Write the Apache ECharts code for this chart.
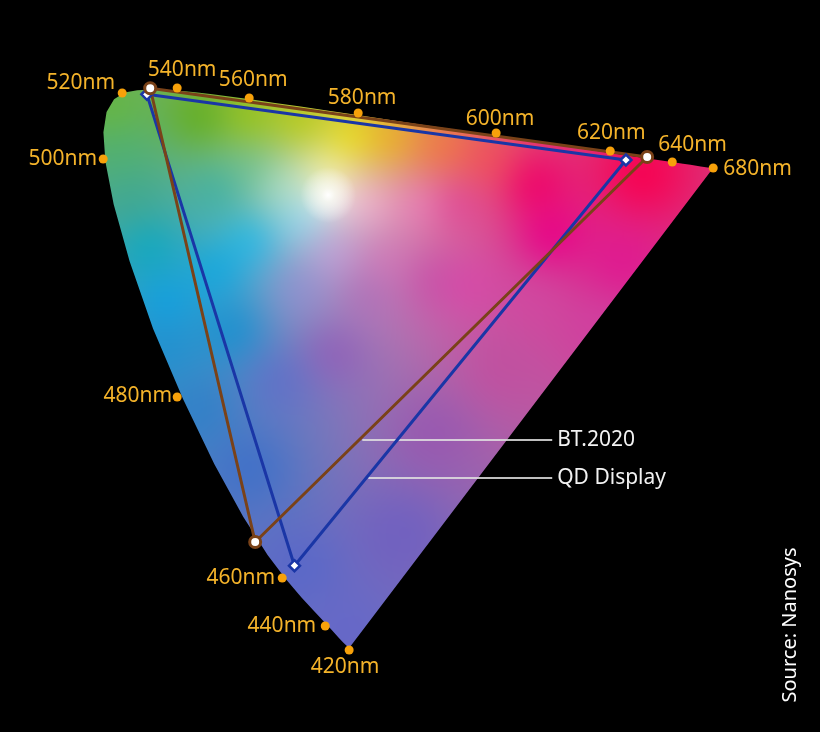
<!DOCTYPE html>
<html>
<head>
<meta charset="utf-8">
<script src="https://cdn.jsdelivr.net/npm/echarts@6/dist/echarts.min.js"></script>
<style>
html,body{margin:0;padding:0;background:#000;}
#chart{width:820px;height:732px;}
</style>
</head>
<body>
<div id="chart"></div>
<script>
// ---- DATA ----
// CIE 1931 spectral locus (wavelength, x, y)
const LOCUS_WL = [420,425,430,435,440,445,450,455,460,465,470,475,480,485,490,495,500,505,510,515,520,525,530,535,540,545,550,555,560,565,570,575,580,585,590,595,600,605,610,615,620,625,630,635,640,645,650,660,670,680];
const LOCUS_X = [0.1714,0.1703,0.1689,0.1669,0.1644,0.1611,0.1566,0.1510,0.1440,0.1355,0.1241,0.1096,0.0913,0.0687,0.0454,0.0235,0.0082,0.0039,0.0139,0.0389,0.0743,0.1142,0.1547,0.1929,0.2296,0.2658,0.3016,0.3373,0.3731,0.4087,0.4441,0.4788,0.5125,0.5448,0.5752,0.6029,0.6270,0.6482,0.6658,0.6801,0.6915,0.7006,0.7079,0.7140,0.7190,0.7230,0.7260,0.7300,0.7320,0.7347];
const LOCUS_Y = [0.0051,0.0058,0.0069,0.0086,0.0109,0.0138,0.0177,0.0227,0.0297,0.0399,0.0578,0.0868,0.1327,0.2007,0.2950,0.4127,0.5384,0.6548,0.7502,0.8120,0.8338,0.8262,0.8059,0.7816,0.7543,0.7243,0.6923,0.6589,0.6245,0.5896,0.5547,0.5202,0.4866,0.4544,0.4242,0.3965,0.3725,0.3514,0.3340,0.3197,0.3083,0.2993,0.2920,0.2859,0.2809,0.2770,0.2740,0.2700,0.2680,0.2653];

// Wavelength markers (u', v')
const MARK_WL = [420,440,460,480,500,520,540,560,580,600,620,640,680];
const MARK_U  = [0.2522,0.2278,0.1839,0.0767,0.0012,0.0206,0.0767,0.1502,0.2614,0.4022,0.5186,0.5819,0.6237];
const MARK_V  = [0.0149,0.0394,0.0884,0.2731,0.5159,0.5833,0.5884,0.5782,0.5629,0.5424,0.5241,0.5129,0.5067];

// Gamut triangles (G, R, B) in u', v'
const BT2020_U = [0.0492,0.5563,0.1563];
const BT2020_V = [0.5881,0.5180,0.1251];
const QD_U = [0.0458,0.5346,0.1964];
const QD_V = [0.5819,0.5149,0.1009];

// Annotations
const ANNOT_TEXT = ['BT.2020','QD Display'];
const ANNOT_U0 = [0.2656,0.2717];
const ANNOT_U1 = [0.4594,0.4594];
const ANNOT_V  = [0.2292,0.1904];

// ---- STYLE ----
const LABEL_PLACE = {
  420:[-4,17,'center'], 440:[-9,0,'right'], 460:[-7,0,'right'], 480:[-5,-1,'right'],
  500:[-6,0,'right'], 520:[-7,-10,'right'], 540:[5,-18,'center'], 560:[4,-18,'center'],
  580:[4,-15,'center'], 600:[4,-14,'center'], 620:[1,-18,'center'], 640:[-14,-17,'left'],
  680:[10,1,'left']
};
function px2uv(x,y){ return [(x-101.8)/980, (664.6-y)/980]; }
const WHITE_SPOT_PX = [328,195];
const COLOR_ANCHORS_PX = [
  [112,110,'#66b640'],[200,118,'#62ae1c'],[250,118,'#98c414'],[300,122,'#b8cc10'],
  [350,138,'#ece010'],[390,140,'#ecb020'],[440,148,'#f07840'],[485,160,'#f05058'],
  [533,185,'#f00068'],[640,175,'#f80050'],[550,235,'#e80088'],[620,262,'#e01890'],
  [467,285,'#d848a8'],[457,203,'#e04898'],[417,203,'#e880b8'],[367,203,'#f0b0d0'],
  [327,170,'#f4f0a0'],[328,195,'#ffffff'],[283,187,'#b0e0c8'],[250,170,'#70c090'],
  [217,190,'#40b0a0'],[300,220,'#90d8f0'],[250,240,'#20b8e8'],[217,270,'#10a8e0'],
  [150,247,'#10a8c0'],[133,197,'#40a890'],[120,150,'#50b070'],[333,253,'#c0a0d8'],
  [383,260,'#d078b8'],[300,287,'#9090d0'],[367,293,'#b070b8'],[433,280,'#c850a8'],
  [333,352,'#9060b8'],[167,300,'#10a0e0'],[233,330,'#1890d0'],[167,347,'#2090d0'],
  [200,410,'#3080c8'],[250,467,'#4070c8'],[280,380,'#6070c8'],[433,433,'#9858b0'],
  [533,300,'#d048a0'],[300,567,'#5a68c8'],[347,633,'#6668c8'],[400,533,'#7060c0'],
  [500,367,'#c050a0'],[600,330,'#d040a0']
];
const COLOR_ANCHORS = COLOR_ANCHORS_PX.map(a => {
  const uv = px2uv(a[0],a[1]);
  return [uv[0], uv[1], parseInt(a[2].slice(1,3),16), parseInt(a[2].slice(3,5),16), parseInt(a[2].slice(5,7),16)];
});
const BROWN = '#7a4218', BLUE = '#1a36a6';
const FONT = '"Noto Sans", "Open Sans", sans-serif';

// convert xy -> u'v'
const LOCUS_U = LOCUS_X.map((x,i)=> 4*x/(-2*x+12*LOCUS_Y[i]+3));
const LOCUS_V = LOCUS_X.map((x,i)=> 9*LOCUS_Y[i]/(-2*x+12*LOCUS_Y[i]+3));

let fillCache = null;
function renderFill(params, api){
  if (params.dataIndex !== 0) return null;
  const W = api.getWidth(), H = api.getHeight();
  if (!fillCache || fillCache.W !== W || fillCache.H !== H) {
    const p0 = api.coord([0,0]), p1 = api.coord([1,1]);
    const sx = p1[0]-p0[0], sy = p1[1]-p0[1];
    const pts = LOCUS_U.map((u,i)=>api.coord([u, LOCUS_V[i]]));
    let minX=1e9,minY=1e9,maxX=-1e9,maxY=-1e9;
    pts.forEach(p=>{minX=Math.min(minX,p[0]);minY=Math.min(minY,p[1]);maxX=Math.max(maxX,p[0]);maxY=Math.max(maxY,p[1]);});
    const M = 50;
    const bx=Math.max(0,Math.floor(minX)-M), by=Math.max(0,Math.floor(minY)-M);
    const bw=Math.min(W,Math.ceil(maxX)+M)-bx, bh=Math.min(H,Math.ceil(maxY)+M)-by;
    const A = document.createElement('canvas'); A.width=W; A.height=H;
    const actx = A.getContext('2d');
    const img = actx.createImageData(bw,bh);
    const d = img.data;
    const n = COLOR_ANCHORS.length;
    for (let j=0;j<bh;j++){
      const v = (by+j+0.5-p0[1])/sy;
      for (let i=0;i<bw;i++){
        const u = (bx+i+0.5-p0[0])/sx;
        let ws=0,r=0,g=0,b=0;
        for (let k=0;k<n;k++){
          const a = COLOR_ANCHORS[k];
          const du=u-a[0], dv=v-a[1];
          const d2 = du*du+dv*dv + 1e-7;
          const w = 1/(d2*Math.sqrt(Math.sqrt(d2)));
          ws+=w; r+=w*a[2]; g+=w*a[3]; b+=w*a[4];
        }
        const o=(j*bw+i)*4;
        d[o]=r/ws; d[o+1]=g/ws; d[o+2]=b/ws; d[o+3]=255;
      }
    }
    actx.putImageData(img,bx,by);
    const C = document.createElement('canvas'); C.width=W; C.height=H;
    const cctx = C.getContext('2d');
    cctx.filter = 'blur(15px)';
    cctx.drawImage(A,0,0);
    cctx.filter = 'none';
    // white glow around the white point
    const wuv = px2uv(WHITE_SPOT_PX[0], WHITE_SPOT_PX[1]);
    const wp = api.coord(wuv);
    const grd = cctx.createRadialGradient(wp[0],wp[1],0,wp[0],wp[1],28);
    grd.addColorStop(0,'rgba(255,255,255,1)');
    grd.addColorStop(0.25,'rgba(255,255,250,0.65)');
    grd.addColorStop(1,'rgba(255,255,255,0)');
    cctx.fillStyle = grd;
    cctx.fillRect(wp[0]-30,wp[1]-30,60,60);
    const B = document.createElement('canvas'); B.width=W; B.height=H;
    const bctx = B.getContext('2d');
    bctx.beginPath();
    pts.forEach((p,i)=>{ if(i===0) bctx.moveTo(p[0],p[1]); else bctx.lineTo(p[0],p[1]); });
    bctx.closePath();
    bctx.fillStyle='#fff'; bctx.fill();
    bctx.globalCompositeOperation='source-in';
    bctx.drawImage(C,0,0);
    fillCache = {W,H,canvas:B};
  }
  return {type:'image', silent:true, style:{image:fillCache.canvas, x:0, y:0, width:W, height:H}};
}

function renderMarker(params, api){
  const i = params.dataIndex;
  const c = api.coord([MARK_U[i], MARK_V[i]]);
  const pl = LABEL_PLACE[MARK_WL[i]];
  return {type:'group', children:[
    {type:'circle', shape:{cx:c[0], cy:c[1], r:4.5}, style:{fill:'#f7a10a'}},
    {type:'text', x:c[0]+pl[0], y:c[1]+pl[1], style:{text: MARK_WL[i]+'nm', fill:'#f4b32a', font:'21px '+FONT, align:pl[2], verticalAlign:'middle'}}
  ]};
}

function renderAnnot(params, api){
  const i = params.dataIndex;
  const a = api.coord([ANNOT_U0[i], ANNOT_V[i]]);
  const b = api.coord([ANNOT_U1[i], ANNOT_V[i]]);
  return {type:'group', children:[
    {type:'line', shape:{x1:a[0], y1:a[1], x2:b[0], y2:b[1]}, style:{stroke:'rgba(225,225,225,0.85)', lineWidth:2}},
    {type:'text', x:b[0]+5, y:b[1], style:{text:ANNOT_TEXT[i], fill:'#f2f2f2', font:'21px '+FONT, align:'left', verticalAlign:'middle'}}
  ]};
}

const tri = (U,V) => [0,1,2,0].map(k=>[U[k],V[k]]);
const pts3 = (U,V) => [0,1,2].map(k=>[U[k],V[k]]);

const chart = echarts.init(document.getElementById('chart'), null, {renderer:'canvas'});
chart.setOption({
  backgroundColor:'#000',
  animation:false,
  grid:{left:4, top:27.6, width:784, height:686},
  xAxis:{type:'value', min:-0.1, max:0.7, show:false},
  yAxis:{type:'value', min:-0.05, max:0.65, show:false},
  series:[
    {type:'custom', name:'locus', renderItem:renderFill, data:[[0,0]], z:1, silent:true},
    {type:'custom', name:'annot', renderItem:renderAnnot, data:ANNOT_TEXT.map((t,i)=>[ANNOT_U0[i],ANNOT_V[i]]), z:2, silent:true},
    {type:'line', name:'QD Display', data:tri(QD_U,QD_V), showSymbol:false, symbol:'none', lineStyle:{color:BLUE, width:3}, z:3},
    {type:'line', name:'BT.2020', data:tri(BT2020_U,BT2020_V), showSymbol:false, symbol:'none', lineStyle:{color:BROWN, width:3}, z:4},
    {type:'scatter', data:pts3(QD_U,QD_V), symbol:'diamond', symbolSize:11, itemStyle:{color:'#fff', borderColor:BLUE, borderWidth:2.5, opacity:1}, z:5},
    {type:'scatter', data:pts3(BT2020_U,BT2020_V), symbol:'circle', symbolSize:11, itemStyle:{color:'#fff', borderColor:BROWN, borderWidth:3, opacity:1}, z:6},
    {type:'custom', name:'markers', renderItem:renderMarker, data:MARK_WL.map((w,i)=>[MARK_U[i],MARK_V[i]]), z:7, silent:true}
  ],
  graphic:[
    {type:'text', x:790, y:625, rotation:Math.PI/2, style:{text:'Source: Nanosys', fill:'#ffffff', font:'20px '+FONT, align:'center', verticalAlign:'middle'}}
  ]
});
</script>
</body>
</html>
